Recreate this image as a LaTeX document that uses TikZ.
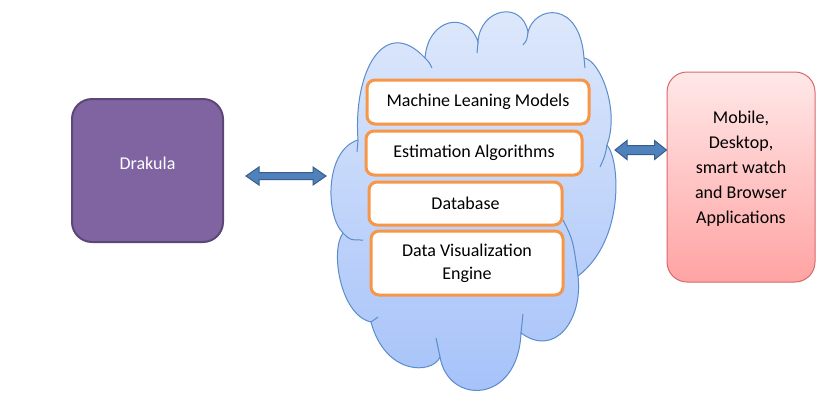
\documentclass[tikz,border=0pt]{standalone}
\usepackage{fontspec}
\setmainfont{Carlito}
\usetikzlibrary{calc}
\definecolor{drfill}{HTML}{8064A2}
\definecolor{drline}{HTML}{5C4776}
\definecolor{org}{HTML}{F79646}
\definecolor{arrfill}{HTML}{4F81BD}
\definecolor{arrline}{HTML}{385D8A}
\definecolor{cloudline}{HTML}{5B8CCB}
\definecolor{cloudtop}{HTML}{DFE9FB}
\definecolor{cloudbot}{HTML}{A4C1F9}
\definecolor{apptop}{HTML}{FFE8E8}
\definecolor{appbot}{HTML}{FFA3A3}
\definecolor{appline}{HTML}{D9686A}
\newcommand\dblarrow[5]{%
  \filldraw[blockarr] (#1) -- ($(#1)+(#3,-#4)$) -- ($(#1)+(#3,-#5)$)
   -- ($(#2)+(-#3,-#5)$) -- ($(#2)+(-#3,-#4)$) -- (#2)
   -- ($(#2)+(-#3,#4)$) -- ($(#2)+(-#3,#5)$)
   -- ($(#1)+(#3,#5)$) -- ($(#1)+(#3,#4)$) -- cycle;}
\begin{document}
\begin{tikzpicture}[x=0.75pt,y=-0.75pt,
  font=\fontsize{13.5}{18.75}\selectfont,
  drak/.style={draw=drline, fill=drfill, line width=1.5pt, rounded corners=15pt,
    text=white, minimum width=113.25pt, minimum height=107.25pt, text depth=10.5pt},
  appbox/.style={draw=appline, top color=apptop, bottom color=appbot, line width=0.75pt,
    rounded corners=15pt, minimum width=111pt, minimum height=157.5pt},
  orangebox/.style={draw=org, fill=white, line width=2.25pt, rounded corners=6pt,
    align=center, inner sep=0pt},
  blockarr/.style={draw=arrline, fill=arrfill, line width=0.75pt},
  cloudshade/.style={draw=cloudline, line width=0.75pt, top color=cloudtop, bottom color=cloudbot},
  cloudedge/.style={draw=cloudline, line width=0.75pt}]
\useasboundingbox[fill=white] (0,0) rectangle (824,401);

% cloud
\path[cloudshade] (358,140)
 .. controls (353,70) and (385,15) .. (425,58)
 .. controls (428,18) and (468,10) .. (478,42)
 .. controls (480,8) and (522,0) .. (528,32)
 .. controls (535,5) and (580,0) .. (584,58)
 .. controls (600,60) and (620,110) .. (607,145)
 .. controls (620,160) and (625,240) .. (578,276)
 .. controls (583,320) and (555,358) .. (521,333)
 .. controls (518,405) and (448,405) .. (440,357)
 .. controls (432,375) and (385,375) .. (371,322)
 .. controls (340,315) and (330,250) .. (343,233)
 .. controls (325,215) and (325,150) .. (358,140) -- cycle;
\draw[cloudedge] (357,152) -- (358,140);
\draw[cloudedge] (425,58) .. controls (429,62) .. (432,68);
\draw[cloudedge] (478,42) -- (477,53);
\draw[cloudedge] (528,32) .. controls (527,40) .. (523,45);
\draw[cloudedge] (584,58) -- (585,68);
\draw[cloudedge] (607,145) .. controls (605,156) .. (600,167);
\draw[cloudedge] (563,220) .. controls (573,240) .. (578,276);
\draw[cloudedge] (523,314) -- (521,333);
\draw[cloudedge] (440,357) .. controls (438,348) .. (436,338);
\draw[cloudedge] (371,322) -- (378,317);
\draw[cloudedge] (343,233) .. controls (350,240) .. (363,240);

% boxes inside cloud
\node[orangebox, minimum width=166.5pt, minimum height=33pt] (ml) at (478,102) {Machine Leaning Models};
\node[orangebox, minimum width=162pt, minimum height=33pt] (est) at (474,153) {Estimation Algorithms};
\node[orangebox, minimum width=144.75pt, minimum height=32.25pt] (db) at (465.5,203.5) {Database};
\node[orangebox, minimum width=144pt, minimum height=48pt,
  font=\fontsize{13.5}{17.25}\selectfont] (viz) at (467,263) {Data Visualization\\Engine};

% side boxes
\node[drak] (drakula) at (147.5,170.5) {Drakula};
\node[appbox, label={[align=center, yshift=6pt]center:Mobile,\\Desktop,\\smart watch\\and Browser\\Applications}] (apps) at (741,177) {};

% connectors
\coordinate (aL1) at (246,176);
\coordinate (aL2) at (326,176);
\coordinate (aR1) at (615,150);
\coordinate (aR2) at (apps.west |- aR1);
\dblarrow{aL1}{aL2}{13}{9}{3.5}
\dblarrow{aR1}{aR2}{12}{9.5}{4.5}
\end{tikzpicture}
\end{document}
